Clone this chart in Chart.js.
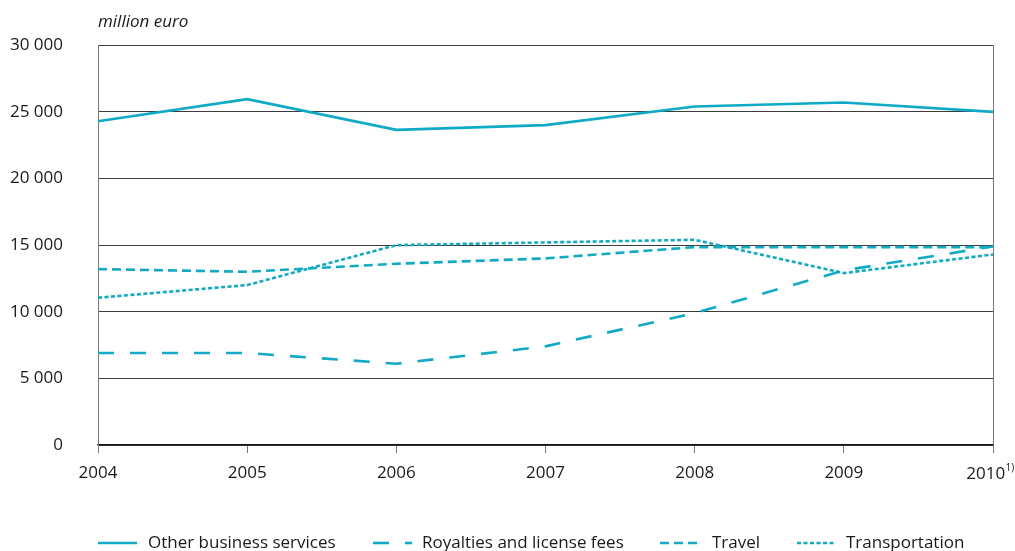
<!DOCTYPE html>
<html>
<head>
<meta charset="utf-8">
<script src="https://cdn.jsdelivr.net/npm/chart.js@4.4.1/dist/chart.umd.min.js"></script>
<style>
  html, body { margin: 0; padding: 0; background: #fff; }
  #wrap { width: 1015px; height: 551px; position: relative; }
</style>
</head>
<body>
<div id="wrap"><canvas id="c" width="1015" height="551"></canvas></div>
<script>
// Years on the horizontal axis; the last one carries a footnote mark
const years = ['2004', '2005', '2006', '2007', '2008', '2009', '2010'];
const footnoteYear = '2010';
const footnoteMark = '1)';

// Service exports, million euro
const otherBusinessServices = [24300, 25950, 23650, 24000, 25400, 25700, 25000];
const royaltiesLicenseFees  = [6900, 6900, 6100, 7400, 9900, 13100, 14900];
const travel                = [13200, 13000, 13600, 14000, 14850, 14850, 14850];
const transportation        = [11050, 12000, 15000, 15200, 15400, 12900, 14300];

const seriesNames = ['Other business services', 'Royalties and license fees', 'Travel', 'Transportation'];

const TEAL = '#0fabc6';
const FONT = '"Open Sans", sans-serif';
const FS = 17;
const LW = 2.6;
const dashes = [[], [16, 16], [9, 5], [4, 2.5]];

function ds(label, data, dash) {
  return {
    label, data,
    borderColor: TEAL, backgroundColor: TEAL,
    borderWidth: LW, borderDash: dash,
    pointRadius: 0, pointHoverRadius: 0,
    tension: 0, fill: false
  };
}

// Unit label, right-hand frame edge, footnoted year label and bottom legend
const decorations = {
  id: 'decorations',
  afterDraw(chart) {
    const { ctx, chartArea: a } = chart;
    ctx.save();
    // right frame edge with its tick
    ctx.strokeStyle = '#7a7a7a';
    ctx.lineWidth = 1;
    ctx.beginPath();
    ctx.moveTo(Math.round(a.right) + 0.5, a.top);
    ctx.lineTo(Math.round(a.right) + 0.5, a.bottom + 8);
    ctx.stroke();

    // footnoted year: the year plus a raised mark, centred together on the tick
    const xs = chart.scales.x;
    const idx = years.indexOf(footnoteYear);
    const tx = xs.getPixelForValue(idx);
    ctx.font = FS + 'px ' + FONT;
    const w1 = ctx.measureText(footnoteYear).width;
    ctx.font = '10px ' + FONT;
    const w2 = ctx.measureText(footnoteMark).width;
    const x0 = tx - (w1 + w2) / 2 - 3;
    ctx.fillStyle = '#1a1a1a';
    ctx.textAlign = 'left';
    ctx.textBaseline = 'middle';
    ctx.font = FS + 'px ' + FONT;
    ctx.fillText(footnoteYear, x0, 474);
    ctx.textBaseline = 'alphabetic';
    ctx.font = '10px ' + FONT;
    ctx.fillText(footnoteMark, x0 + w1 + 0.5, 471);

    // unit label
    ctx.font = 'italic ' + FS + 'px ' + FONT;
    ctx.fillText('million euro', a.left, 27);

    // legend
    const items = [
      { x: 98, tx: 148 },
      { x: 373, tx: 422 },
      { x: 660, tx: 712 },
      { x: 797, tx: 846 }
    ];
    ctx.font = FS + 'px ' + FONT;
    const ly = 543;
    items.forEach((it, i) => {
      ctx.strokeStyle = TEAL;
      ctx.lineWidth = LW;
      ctx.setLineDash(dashes[i]);
      ctx.beginPath();
      ctx.moveTo(it.x, ly);
      ctx.lineTo(it.x + 39, ly);
      ctx.stroke();
      ctx.setLineDash([]);
      ctx.fillStyle = '#1a1a1a';
      ctx.textBaseline = 'middle';
      ctx.fillText(seriesNames[i], it.tx, ly);
    });
    ctx.restore();
  }
};

new Chart(document.getElementById('c'), {
  type: 'line',
  data: {
    labels: years,
    datasets: [
      ds(seriesNames[0], otherBusinessServices, dashes[0]),
      ds(seriesNames[1], royaltiesLicenseFees, dashes[1]),
      ds(seriesNames[2], travel, dashes[2]),
      ds(seriesNames[3], transportation, dashes[3])
    ]
  },
  options: {
    responsive: false,
    animation: false,
    devicePixelRatio: 1,
    layout: { padding: { top: 44, left: 0, right: 22, bottom: 0 } },
    plugins: {
      legend: { display: false },
      tooltip: { enabled: false }
    },
    scales: {
      x: {
        offset: false,
        grid: { drawOnChartArea: false, drawTicks: true, tickLength: 8, color: '#7a7a7a' },
        border: { color: '#111', width: 1.2 },
        ticks: {
          color: '#1a1a1a', font: { family: FONT, size: FS }, padding: 10, maxRotation: 0, autoSkip: false,
          callback: (v, i) => years[i] === footnoteYear ? '' : years[i]
        },
        afterFit(scale) { scale.height = 551 - 445; scale.paddingRight = 0; scale.paddingLeft = 0; }
      },
      y: {
        min: 0, max: 30000,
        grid: { color: '#3c3c3c', lineWidth: 1, drawTicks: false },
        border: { color: '#7a7a7a', width: 1 },
        ticks: {
          stepSize: 5000,
          color: '#1a1a1a',
          font: { family: FONT, size: FS },
          padding: 35,
          callback: v => v === 0 ? '0' : String(v).replace(/\B(?=(\d{3})+(?!\d))/g, ' ')
        },
        afterFit(scale) { scale.width = 98; }
      }
    }
  },
  plugins: [decorations]
});
</script>
</body>
</html>
